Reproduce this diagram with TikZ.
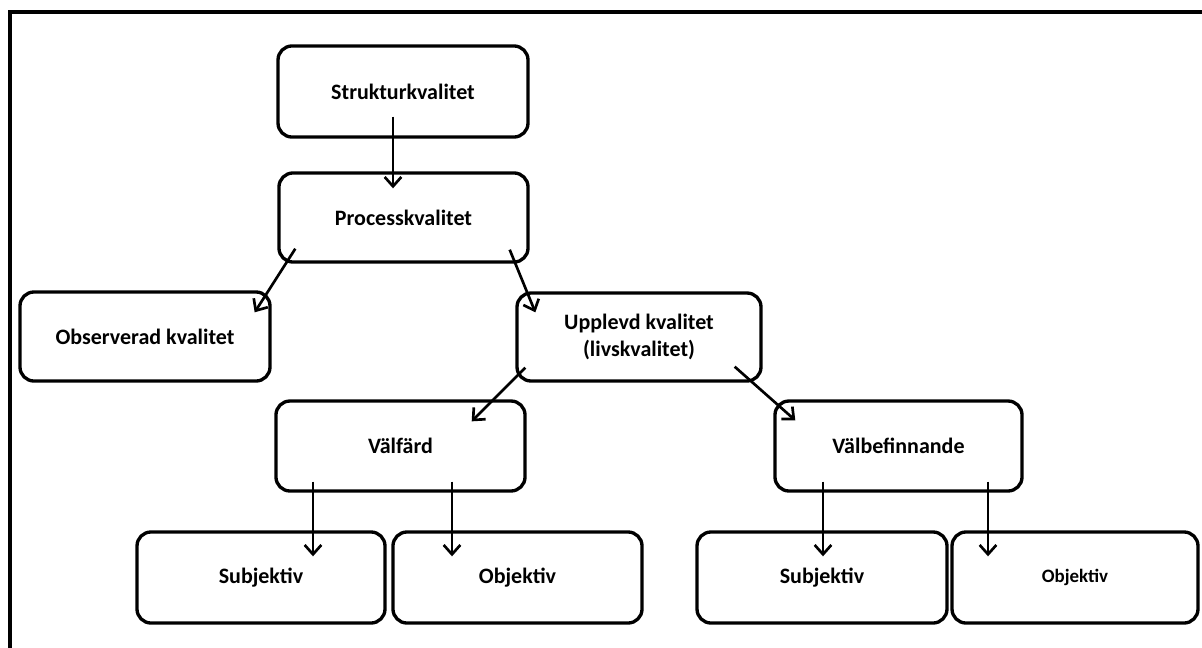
\documentclass[tikz,border=0pt]{standalone}
\usepackage{fontspec}
\setmainfont{Carlito}
\usetikzlibrary{arrows.meta}
\tikzset{
  box/.style={draw=black, line width=2.5pt, rounded corners=10.5pt, fill=white,
    font=\fontsize{16.5}{20}\selectfont\bfseries, align=center, inner sep=0pt},
  conn/.style={draw=black, line width=2pt, -{Straight Barb[length=7pt, width=12.5pt, line width=2pt]}},
}
\begin{document}
\begin{tikzpicture}[x=0.75pt, y=-0.75pt]
\path[use as bounding box, clip] (0,0) rectangle (1202,647);
\fill[white] (0,0) rectangle (1202,647);
\draw[line width=3.2pt] (10,12) rectangle (1220,670);
% boxes
\node[box, minimum width=187.5pt, minimum height=68.3pt] (S) at (403,91.5) {Strukturkvalitet};
\node[box, minimum width=186.8pt, minimum height=66.8pt] (P) at (403.5,217.5) {Processkvalitet};
\node[box, minimum width=187.5pt, minimum height=66.8pt] (O) at (145,336.5) {Observerad kvalitet};
\node[box, minimum width=183pt, minimum height=66pt] (U) at (639,337) {Upplevd kvalitet\\(livskvalitet)};
\node[box, minimum width=186.8pt, minimum height=67.5pt] (V) at (400.5,446) {Välfärd};
\node[box, minimum width=185.3pt, minimum height=67.5pt] (B) at (898.5,446) {Välbefinnande};
\node[box, minimum width=186pt, minimum height=68.3pt] (S1) at (261,577.5) {Subjektiv};
\node[box, minimum width=186.8pt, minimum height=68.3pt] (O1) at (517.5,577.5) {Objektiv};
\node[box, minimum width=187.5pt, minimum height=68.3pt] (S2) at (822,577.5) {Subjektiv};
\node[box, minimum width=184.5pt, minimum height=68.3pt, font=\fontsize{14.2}{17}\selectfont\bfseries] (O2) at (1075,577.5) {Objektiv};
% connectors
\draw[conn] ([shift={(-10,-22)}]S.south) -- ([shift={(-10.5,17)}]P.north);
\draw[conn] ([shift={(18,-15)}]P.south west) -- ([shift={(-17,22)}]O.north east);
\draw[conn] ([shift={(-20,-14)}]P.south east) -- ([shift={(20,21)}]U.north west);
\draw[conn] ([shift={(10,-15)}]U.south west) -- ([shift={(-55,22)}]V.north east);
\draw[conn] ([shift={(-28,-16)}]U.south east) -- ([shift={(22,21)}]B.north west);
\draw[conn] ([shift={(-87.5,-11)}]V.south) -- ([shift={(52,26)}]S1.north);
\draw[conn] ([shift={(51.5,-11)}]V.south) -- ([shift={(-65.5,26)}]O1.north);
\draw[conn] ([shift={(-75.5,-11)}]B.south) -- ([shift={(1,26)}]S2.north);
\draw[conn] ([shift={(89.5,-11)}]B.south) -- ([shift={(-87,26)}]O2.north);
\end{tikzpicture}
\end{document}
